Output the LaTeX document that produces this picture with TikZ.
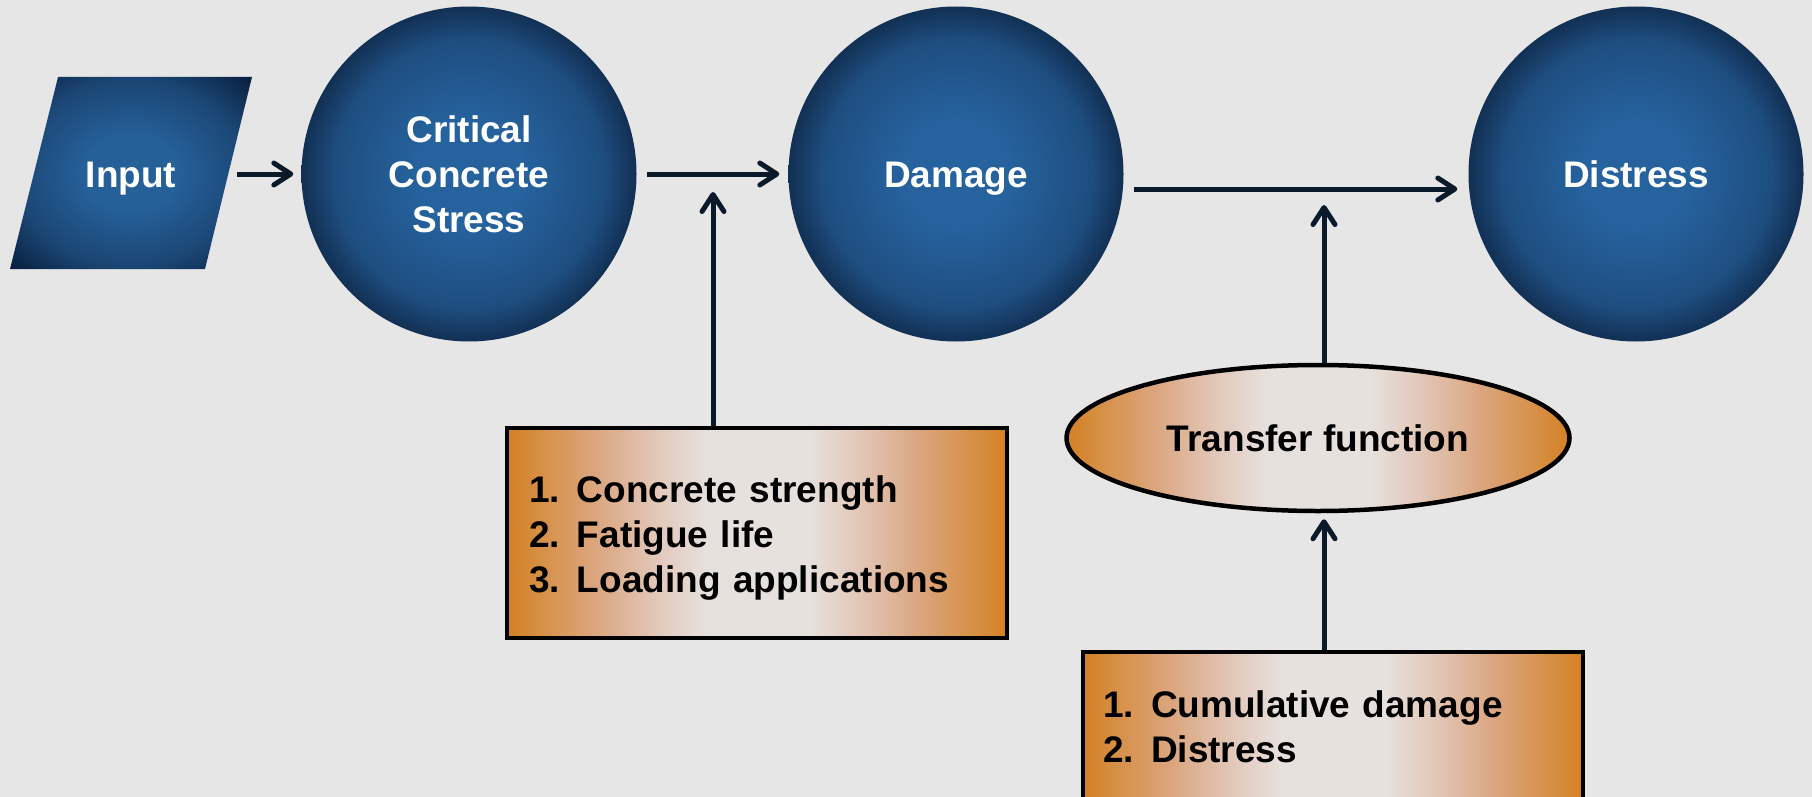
\documentclass[tikz,border=0pt]{standalone}
\usepackage{fontspec}
\setmainfont{Liberation Sans}
\usetikzlibrary{arrows.meta,shapes.geometric,calc}
\definecolor{bg}{RGB}{230,230,230}
\definecolor{bc}{RGB}{38,98,158}
\definecolor{bm}{RGB}{30,78,128}
\definecolor{bd}{RGB}{18,48,84}
\definecolor{pc}{RGB}{37,96,153}
\definecolor{pm}{RGB}{27,70,116}
\definecolor{pd}{RGB}{8,32,62}
\definecolor{oA}{RGB}{212,128,35}
\definecolor{oA2}{RGB}{214,142,66}
\definecolor{oB}{RGB}{219,166,128}
\definecolor{oC}{RGB}{226,200,186}
\definecolor{oD}{RGB}{231,225,222}
\definecolor{ink}{RGB}{11,26,43}
\pgfdeclareradialshading{sphereblue}{\pgfpoint{0bp}{0bp}}{color(0bp)=(bc); color(8bp)=(bc); color(20bp)=(bm); color(25bp)=(bd); color(50bp)=(bd)}
\pgfdeclareradialshading{inpshade}{\pgfpoint{0bp}{0bp}}{color(0bp)=(pc); color(10bp)=(pc); color(24bp)=(pm); color(35bp)=(pd); color(50bp)=(pd)}
\pgfdeclarehorizontalshading{orangeglow}{100bp}{color(0bp)=(oA); color(25bp)=(oA); color(28bp)=(oA2); color(34bp)=(oB); color(40bp)=(oC); color(45bp)=(oD); color(55bp)=(oD); color(60bp)=(oC); color(66bp)=(oB); color(72bp)=(oA2); color(75bp)=(oA); color(100bp)=(oA)}
\tikzset{
  txt/.style={font=\fontsize{37}{45}\selectfont\bfseries},
  oneline/.style={text height=27pt, text depth=0pt},
  bluecirc/.style={circle, shading=sphereblue, minimum size=335pt, inner sep=0pt, txt, text=white, align=center},
  obox/.style={rectangle, shading=orangeglow, draw=black, line width=4pt, txt, text=black, align=left, inner sep=0pt},
  arr/.style={draw=ink, line width=5pt, -{Straight Barb[round,length=17pt,width=22pt]}},
}
\newcommand{\itm}[2]{\makebox[48pt][l]{#1}#2}
\newcommand{\topstrut}{\rule{0pt}{36pt}}
\begin{document}
\begin{tikzpicture}[x=1pt,y=-1pt]
\useasboundingbox (0,0) rectangle (1812,797);
\fill[bg] (0,0) rectangle (1812,797);
% input parallelogram
\shade[shading=inpshade] (58,77) -- (252,77) -- (205,269) -- (10,269) -- cycle;
\node[txt, oneline, text=white, minimum width=194pt, inner sep=0pt] (inp) at (131,174) {Input};
% circles
\node[bluecirc] (crit) at (469,174) {Critical\\Concrete\\Stress};
\node[bluecirc, oneline] (dam) at (956,174) {Damage};
\node[bluecirc, oneline] (dist) at (1636,174) {Distress};
% boxes
\node[obox, minimum width=500pt, minimum height=210pt, text width=456pt] (box1) at (757,533)
  {\topstrut\itm{1.}{Concrete strength}\\\itm{2.}{Fatigue life}\\\itm{3.}{Loading applications}};
\node[obox, minimum width=500pt, minimum height=150pt, text width=460pt] (box2) at (1333,727)
  {\itm{1.}{Cumulative damage}\\\itm{2.}{Distress}};
\node[ellipse, shading=orangeglow, draw=black, line width=4.5pt, minimum width=503pt, minimum height=146pt, inner sep=0pt, txt, oneline] (tf) at (1318,438) {Transfer function};
% junction coordinates
\coordinate (j1) at (713,192);
\coordinate (j2) at (1324,205);
% connectors
\draw[arr] ([xshift=9pt]inp.east) -- ([xshift=-8pt]crit.west);
\draw[arr] ([xshift=10pt]crit.east) -- ([xshift=-9pt]dam.west);
\draw[arr] ($(dam.east)+(10,15)$) -- ($(dist.west)+(-11,15)$);
\draw[arr] (box1.north -| j1) -- (j1);
\draw[arr] (tf.north -| j2) -- (j2);
\draw[arr] (box2.north -| j2) -- ($(tf.south -| j2)+(0,6)$);
\end{tikzpicture}
\end{document}
